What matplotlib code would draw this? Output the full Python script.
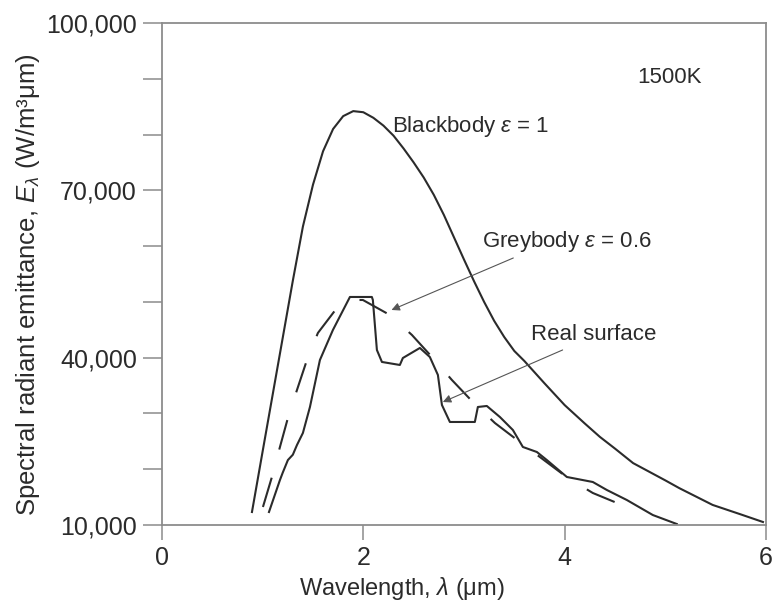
import matplotlib
matplotlib.use("Agg")
import matplotlib.pyplot as plt
from matplotlib.ticker import FuncFormatter

plt.rcParams['font.family'] = ['Liberation Sans', 'DejaVu Sans']
plt.rcParams['mathtext.fontset'] = 'custom'
plt.rcParams['mathtext.rm'] = 'Liberation Sans'
plt.rcParams['mathtext.it'] = 'Liberation Sans:italic'

# blackbody curve (wavelength in um, W/m3um)
bb_x = [0.894, 1.0, 1.1, 1.2, 1.3, 1.4, 1.5, 1.6, 1.7, 1.8, 1.9, 2.0, 2.1, 2.2,
        2.3, 2.4, 2.5, 2.6, 2.7, 2.8, 2.9, 3.0, 3.1, 3.2, 3.3, 3.4, 3.5, 3.6,
        3.8, 4.0, 4.2, 4.35, 4.5, 4.68, 5.0, 5.14, 5.47, 5.75, 5.97]
bb_y = [12330, 23200, 33400, 43600, 53800, 63500, 71000, 77000, 81000, 83300,
        84200, 84000, 83000, 81600, 79800, 77500, 75000, 72300, 69200, 65600,
        61600, 57600, 53700, 50000, 46600, 43700, 41200, 39400,
        35400, 31500, 28200, 25800, 23700, 21100, 18000, 16600, 13600, 11900, 10540]

# greybody (epsilon = 0.6)
gb_x = [1.003, 1.092, 1.172, 1.251, 1.341, 1.44, 1.549, 1.738, 1.867, 1.996,
        2.264, 2.483, 2.691, 2.88, 3.088, 3.307, 3.555, 4.032, 4.28, 4.568]
gb_y = [13230, 18600, 23990, 29190, 34200, 39580, 44430, 48910, 50340, 50340,
        47650, 44070, 39940, 36000, 32050, 28290, 24880, 18430, 15740, 13590]

# real surface
rs_x = [1.063, 1.172, 1.20, 1.251, 1.30, 1.341, 1.40, 1.47, 1.569, 1.698, 1.867,
        2.085, 2.095, 2.135, 2.185, 2.363, 2.393, 2.562, 2.661, 2.741, 2.781,
        2.860, 3.108, 3.138, 3.227, 3.357, 3.486, 3.585, 3.724, 3.823, 4.022,
        4.28, 4.419, 4.618, 4.876, 5.114]
rs_y = [12330, 18070, 19400, 21650, 22600, 24340, 26500, 31160, 39580, 44960,
        50880, 50880, 50340, 41380, 39230, 38690, 39940, 41740, 40120, 36900,
        31520, 28470, 28470, 31160, 31340, 29360, 27030, 23990, 23090, 21650,
        18610, 17710, 16280, 14480, 11790, 10180]

x_ticks = [0, 2, 4, 6]
y_ticks = [10000, 40000, 70000, 100000]
y_minor = [20000, 30000, 50000, 60000, 80000, 90000]

ink = '#2b2b2b'
axis_grey = '#8c8c8c'

fig = plt.figure(figsize=(7.72, 6.08), dpi=100)
ax = fig.add_axes([0.2098, 0.1365, 0.7824, 0.8257])

lw = 1.5
ax.plot(bb_x, bb_y, color=ink, lw=lw)
ax.plot(gb_x, gb_y, color=ink, lw=lw, dashes=(22 / lw, 21 / lw))
ax.plot(rs_x, rs_y, color=ink, lw=lw)

ax.set_xlim(0, 6)
ax.set_ylim(10000, 100000)
ax.set_xticks(x_ticks)
ax.set_yticks(y_ticks)
ax.set_yticks(y_minor, minor=True)
ax.yaxis.set_major_formatter(FuncFormatter(lambda v, p: f"{int(v):,}"))

for s in ax.spines.values():
    s.set_color(axis_grey)
    s.set_linewidth(1.3)
ax.tick_params(which='both', direction='out', width=1.1, color=axis_grey,
               labelsize=18, labelcolor=ink, pad=4)
ax.tick_params(axis='x', length=11)
ax.tick_params(axis='y', which='both', length=14)

ax.set_xlabel(r"Wavelength, $\lambda$ (μm)", fontsize=17, color=ink)
ax.xaxis.set_label_coords(0.397, -0.1)
ax.set_ylabel(r"Spectral radiant emittance, $E_{\lambda}$ (W/m³μm)", fontsize=18.5, color=ink)
ax.yaxis.set_label_coords(-0.198, 0.478)

# curve labels
ax.text(2.29, 81360, r"Blackbody $\varepsilon$ = 1", fontsize=16, color=ink, va='center')
ax.text(3.18, 60740, r"Greybody $\varepsilon$ = 0.6", fontsize=16, color=ink, va='center')
ax.text(3.67, 44070, "Real surface", fontsize=16, color=ink, va='center')
ax.text(4.72, 90150, "1500K", fontsize=16, color=ink, va='center')

arrow = dict(arrowstyle='-|>', color='#555555', lw=0.8, mutation_scale=12,
             shrinkA=0, shrinkB=0)
ax.annotate("", xy=(2.28, 48550), xytext=(3.49, 57870), arrowprops=arrow)
ax.annotate("", xy=(2.79, 32050), xytext=(3.98, 41380), arrowprops=arrow)

fig.savefig("out.png", dpi=100)
